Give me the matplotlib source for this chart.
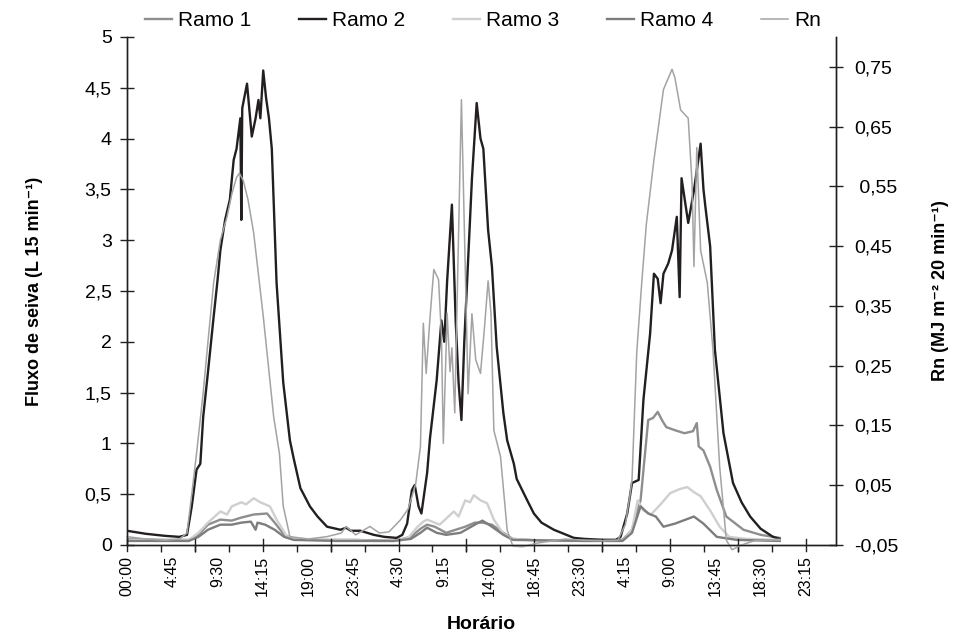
import matplotlib
matplotlib.use("Agg")
import matplotlib.pyplot as plt
from matplotlib.ticker import FixedLocator

plt.rcParams["font.family"] = ["Liberation Sans", "DejaVu Sans"]

# ---- dados (tempo em horas desde 00:00 do primeiro dia) ----
ramo1_h = [0, 4, 6.5, 7.5, 8.5, 9.8, 11, 12, 13.3, 14.7, 15.5, 16.5, 17.5, 20, 24, 28,
           29.8, 30.8, 31.5, 32.3, 33.5, 34.5, 35.5, 36.5, 37.3, 38.3, 39.5, 40.5, 44, 48,
           52, 53, 53.9, 54.7, 55.2, 55.7, 56.2, 56.6, 57.5, 58.5, 59.4, 59.8, 60.0, 60.5,
           61.2, 61.9, 62.9, 64.7, 66.5, 68.5]
ramo1_v = [0.06, 0.05, 0.05, 0.10, 0.20, 0.25, 0.24, 0.27, 0.30, 0.31, 0.22, 0.10, 0.06,
           0.05, 0.05, 0.04, 0.08, 0.16, 0.20, 0.18, 0.12, 0.15, 0.18, 0.22, 0.22, 0.20,
           0.12, 0.06, 0.04, 0.05, 0.05, 0.15, 0.44, 1.23, 1.25, 1.31, 1.22, 1.16, 1.13,
           1.10, 1.12, 1.20, 0.97, 0.93, 0.77, 0.54, 0.28, 0.15, 0.10, 0.07]

ramo2_h = [0, 2, 4, 5.5, 6.3, 6.8, 7.3, 7.7, 8.0, 8.5, 9.1, 9.5, 9.8, 10.3, 10.8, 11.2,
           11.5, 11.9, 12.0, 12.1, 12.6, 13.1, 13.5, 13.8, 14.0, 14.3, 14.6, 14.9, 15.2,
           15.7, 16.4, 17.1, 17.5, 18.2, 19.2, 20, 21, 22.4, 23.0, 23.5, 24.5, 25.9, 27,
           28.3, 28.9, 29.4, 29.9, 30.2, 30.6, 30.9, 31.5, 31.8, 32.5, 33.0, 33.3, 33.6,
           34.1, 34.5, 34.8, 35.1, 35.4, 35.7, 36.2, 36.7, 37.1, 37.4, 37.9, 38.3, 38.8,
           39.5, 39.9, 40.6, 40.9, 42.0, 42.7, 43.5, 44.8, 46.9, 48, 50, 51.3, 51.8, 52.5,
           53.0, 53.7, 54.2, 54.9, 55.3, 55.7, 56.0, 56.3, 56.8, 57.2, 57.7, 58.0, 58.2,
           58.9, 59.5, 60.2, 60.5, 60.7, 61.2, 61.7, 62.6, 63.6, 64.5, 65.4, 66.5, 67.8, 68.5]
ramo2_v = [0.14, 0.11, 0.09, 0.08, 0.10, 0.38, 0.74, 0.80, 1.26, 1.70, 2.25, 2.60, 2.90,
           3.20, 3.40, 3.79, 3.90, 4.20, 3.20, 4.30, 4.54, 4.02, 4.20, 4.38, 4.20, 4.67,
           4.40, 4.20, 3.90, 2.58, 1.60, 1.03, 0.85, 0.56, 0.38, 0.28, 0.18, 0.15, 0.17,
           0.14, 0.14, 0.10, 0.08, 0.07, 0.10, 0.21, 0.54, 0.59, 0.38, 0.31, 0.71, 1.05,
           1.62, 2.21, 2.00, 2.60, 3.35, 2.20, 1.60, 1.23, 2.00, 2.60, 3.60, 4.35, 4.00,
           3.90, 3.10, 2.74, 1.95, 1.30, 1.03, 0.80, 0.65, 0.44, 0.31, 0.22, 0.15, 0.07,
           0.06, 0.05, 0.05, 0.08, 0.31, 0.61, 0.64, 1.43, 2.08, 2.67, 2.62, 2.38, 2.67,
           2.77, 2.90, 3.23, 2.44, 3.61, 3.17, 3.49, 3.95, 3.50, 3.33, 2.94, 1.92, 1.10,
           0.61, 0.42, 0.28, 0.16, 0.08, 0.06]

ramo3_h = [0, 4, 6.5, 7.5, 8.5, 9.8, 10.5, 11.0, 12, 12.5, 13.3, 14, 15, 15.7, 16.8, 18,
           22, 24, 26, 28, 29.5, 30.5, 31.1, 31.5, 32.3, 32.8, 33.5, 34.3, 34.8, 35.5, 36.0,
           36.4, 37.1, 37.8, 38.5, 39.5, 40.5, 44, 48, 52, 53, 53.6, 54.2, 55, 56, 57, 58,
           58.8, 59.5, 60.2, 61.2, 62.2, 63.2, 65, 68.5]
ramo3_v = [0.05, 0.05, 0.05, 0.12, 0.22, 0.33, 0.30, 0.38, 0.42, 0.40, 0.46, 0.42, 0.38,
           0.25, 0.08, 0.06, 0.05, 0.05, 0.04, 0.04, 0.07, 0.18, 0.23, 0.25, 0.22, 0.20,
           0.26, 0.33, 0.28, 0.44, 0.42, 0.49, 0.44, 0.41, 0.25, 0.11, 0.06, 0.04, 0.04,
           0.04, 0.15, 0.44, 0.34, 0.30, 0.40, 0.51, 0.55, 0.57, 0.52, 0.48, 0.34, 0.18,
           0.08, 0.06, 0.05]

ramo4_h = [0, 4, 6.5, 7.5, 8.5, 9.8, 11, 12, 13.0, 13.5, 13.7, 14.5, 15.5, 16.5, 17.5, 22,
           28, 29.8, 30.8, 31.5, 32.5, 33.5, 35, 36.5, 37.3, 38.3, 39.5, 40.5, 48, 52, 53,
           53.9, 54.7, 55.5, 56.3, 57.5, 59.5, 60.5, 61.9, 64, 68.5]
ramo4_v = [0.04, 0.04, 0.04, 0.08, 0.15, 0.20, 0.20, 0.22, 0.23, 0.15, 0.22, 0.20, 0.15,
           0.08, 0.05, 0.04, 0.04, 0.06, 0.12, 0.17, 0.12, 0.10, 0.12, 0.20, 0.24, 0.18,
           0.10, 0.05, 0.04, 0.04, 0.12, 0.38, 0.31, 0.28, 0.18, 0.21, 0.28, 0.21, 0.08,
           0.05, 0.04]

# Rn em MJ m-2 20 min-1 (eixo secundário)
rn_h = [0, 2, 4, 5.5, 6.3, 6.8, 7.3, 8.0, 8.5, 9.1, 9.8, 10.5, 11.0, 11.5, 11.8, 12.2,
        12.7, 13.3, 14.3, 15.4, 16.0, 16.4, 17.1, 19, 21, 22.5, 23, 24, 25.5, 26.5, 27.5,
        28.7, 29.5, 30.3, 30.8, 31.1, 31.4, 31.8, 32.2, 32.7, 33.0, 33.2, 33.6, 33.9,
        34.1, 34.4, 35.1, 35.8, 36.2, 36.6, 37.1, 37.5, 37.9, 38.2, 38.5, 39.2,
        39.9, 40.5, 41.5, 43, 45, 46, 48, 50, 51.5, 52.3, 52.8, 53.0, 53.5, 54.0, 54.5,
        55.3, 56.3, 57.2, 57.5, 58.1, 58.9, 59.3, 59.5, 59.8, 60.2, 60.9, 61.5, 62.2, 62.9,
        63.5, 64.5, 66, 68.5]
rn_v = [-0.036, -0.040, -0.042, -0.040, -0.030, 0.035, 0.103, 0.205, 0.290, 0.389, 0.460,
        0.499, 0.537, 0.565, 0.572, 0.560, 0.528, 0.472, 0.333, 0.164, 0.103, 0.015,
        -0.036, -0.040, -0.036, -0.030, -0.019, -0.033, -0.019, -0.030, -0.028, -0.008,
        0.010, 0.052, 0.115, 0.321, 0.237, 0.330, 0.411, 0.394, 0.300, 0.120, 0.338,
        0.240, 0.280, 0.171, 0.695, 0.203, 0.337, 0.260, 0.237, 0.310, 0.392,
        0.338, 0.142, 0.098, -0.025, -0.052, -0.053, -0.047, -0.042, -0.040, -0.042,
        -0.043, -0.042, -0.016, 0.035, 0.059, 0.273, 0.384, 0.486, 0.594, 0.712, 0.746,
        0.732, 0.678, 0.664, 0.555, 0.416, 0.615, 0.443, 0.389, 0.276, 0.081, -0.042,
        -0.058, -0.050, -0.042, -0.042]

tick_labels = ["00:00", "4:45", "9:30", "14:15", "19:00", "23:45", "4:30", "9:15",
               "14:00", "18:45", "23:30", "4:15", "9:00", "13:45", "18:30", "23:15"]
fluxo_ticks = [0, 0.5, 1, 1.5, 2, 2.5, 3, 3.5, 4, 4.5, 5]
fluxo_labels = ["0", "0,5", "1", "1,5", "2", "2,5", "3", "3,5", "4", "4,5", "5"]
rn_ticks = [-0.05, 0.05, 0.15, 0.25, 0.35, 0.45, 0.55, 0.65, 0.75]
rn_labels = ["-0,05", "0,05", "0,15", "0,25", "0,35", "0,45", " 0,55", "0,65", "0,75"]

LABEL_STEP = 4.75          # 4h45 entre rótulos
TICK_STEP = LABEL_STEP * 0.75
X_MAX = 74.4
INK = "#231f20"

fig = plt.figure(figsize=(9.56, 6.42), dpi=100)
ax = fig.add_axes([0.1328, 0.1511, 0.7416, 0.7913])
ax2 = ax.twinx()

l1, = ax.plot(ramo1_h, ramo1_v, color="#8e8e8e", lw=1.7, label="Ramo 1")
l2, = ax.plot(ramo2_h, ramo2_v, color=INK, lw=1.7, label="Ramo 2")
l3, = ax.plot(ramo3_h, ramo3_v, color="#cfcfcf", lw=1.7, label="Ramo 3")
l4, = ax.plot(ramo4_h, ramo4_v, color="#7d7d7d", lw=1.7, label="Ramo 4")
l5, = ax2.plot(rn_h, rn_v, color="#a3a3a3", lw=1.1, label="Rn", clip_on=False)

ax.set_xlim(0, X_MAX)
ax.set_ylim(0, 5)
ax2.set_ylim(-0.05, 0.80)

# eixo x: rótulos a cada 4:45, marcas a cada 0,75 do intervalo
label_pos = [i * LABEL_STEP for i in range(len(tick_labels))]
ax.set_xticks(label_pos)
ax.set_xticklabels(tick_labels, rotation=90, fontsize=11.5)
ax.tick_params(axis="x", length=0, pad=8)
n_ticks = int(X_MAX // TICK_STEP) + 1
tick_pos = [i * TICK_STEP for i in range(n_ticks)]
ax.xaxis.set_minor_locator(FixedLocator(tick_pos))
ax.tick_params(axis="x", which="minor", direction="out", length=5, width=1, color=INK)
for p in tick_pos[::2]:
    ax.plot([p, p], [-0.06, 0.06], color=INK, lw=1, clip_on=False)

ax.set_yticks(fluxo_ticks)
ax.set_yticklabels(fluxo_labels, fontsize=14)
ax.tick_params(axis="y", direction="inout", length=10, width=1, pad=6, color=INK)
ax2.set_yticks(rn_ticks)
ax2.set_yticklabels(rn_labels, fontsize=14)
ax2.tick_params(axis="y", direction="inout", length=10, width=1, pad=8, color=INK)

for a in (ax, ax2):
    a.spines["top"].set_visible(False)
    for s in ("left", "right", "bottom"):
        a.spines[s].set_color(INK)
        a.spines[s].set_linewidth(1)

ax.set_ylabel("Fluxo de seiva (L 15 min⁻¹)", fontsize=13, fontweight="bold", labelpad=30)
ax2.set_ylabel("Rn (MJ m⁻² 20 min⁻¹)", fontsize=13, fontweight="bold", labelpad=24)
ax.set_xlabel("Horário", fontsize=14, fontweight="bold", labelpad=14)

fig.legend(handles=[l1, l2, l3, l4, l5], loc="upper center", bbox_to_anchor=(0.505, 1.012),
           ncol=5, frameon=False, fontsize=15, handlelength=1.3, handletextpad=0.3,
           columnspacing=2.28)

fig.savefig("out.png", dpi=100)
